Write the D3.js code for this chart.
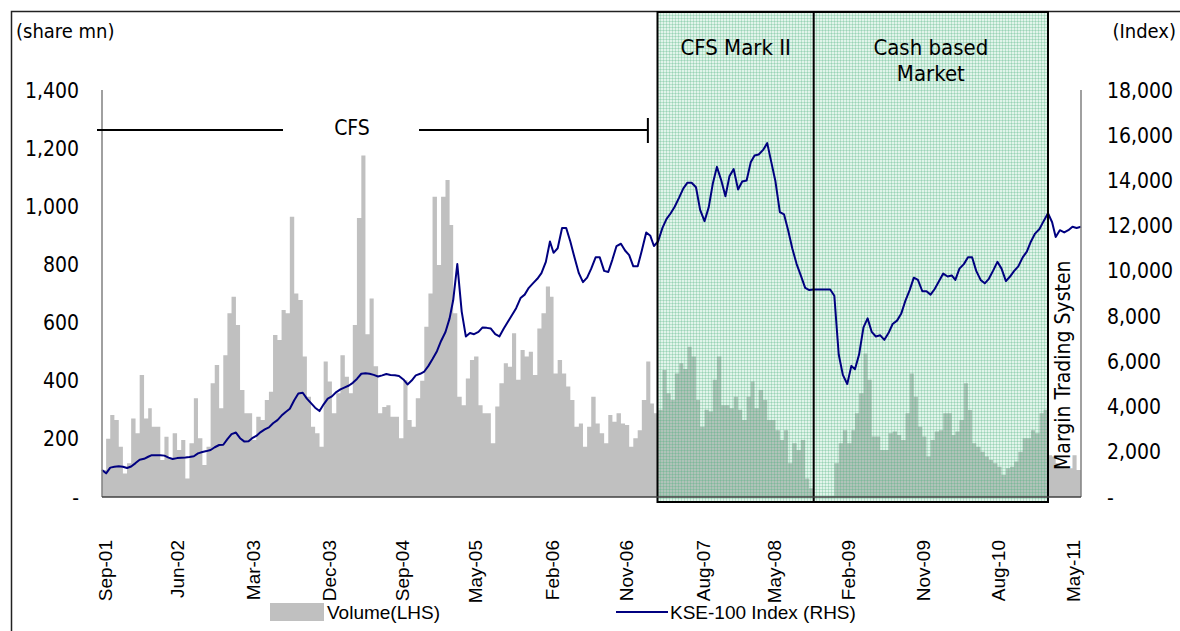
<!DOCTYPE html>
<html>
<head>
<meta charset="utf-8">
<script src="https://cdn.jsdelivr.net/npm/d3@7"></script>
<style>
  body { margin: 0; background: #fff; }
  svg text { font-family: "DejaVu Sans Condensed", "DejaVu Sans", sans-serif; fill: #000; }
</style>
</head>
<body>
<script>
// half-monthly periods starting 1 Sep 2001
var startDate = new Date(2001, 8, 1);
var endDate = new Date(2011, 5, 1);

// traded volume, share mn (LHS)
var volume = [
  93, 200, 282, 265, 173, 81, 116, 270, 219, 420, 270, 305, 242, 242, 127, 207, 133, 219, 162, 196,
  64, 185, 340, 202, 110, 173, 391, 454, 305, 488, 632, 689, 592, 368, 288, 288, 196, 276, 265, 334,
  362, 557, 540, 643, 632, 964, 700, 678, 483, 345, 242, 219, 173, 466, 397, 288, 357, 488, 414, 357,
  592, 960, 1175, 560, 683, 450, 288, 310, 316, 276, 276, 202, 402, 265, 242, 340, 400, 586, 700, 1033,
  798, 1033, 1090, 936, 632, 345, 316, 408, 471, 483, 316, 288, 288, 185, 311, 391, 460, 448, 563, 403,
  506, 483, 500, 420, 580, 632, 724, 689, 425, 471, 425, 380, 334, 242, 253, 173, 242, 345, 253, 219,
  185, 282, 259, 288, 253, 248, 173, 202, 230, 334, 466, 322, 288, 300, 437, 357, 334, 425, 460, 440,
  517, 483, 334, 242, 300, 294, 403, 483, 316, 316, 305, 345, 300, 265, 345, 397, 305, 368, 334, 265,
  265, 230, 196, 230, 116, 185, 162, 196, 64, 30, 1, 1, 1, 1, 3, 116, 185, 230, 185, 230,
  288, 357, 494, 403, 208, 208, 162, 162, 219, 225, 213, 196, 288, 425, 345, 242, 208, 139, 196, 225,
  230, 288, 288, 213, 225, 265, 391, 299, 185, 173, 156, 139, 127, 116, 104, 76, 99, 104, 122, 156,
  202, 202, 230, 219, 288, 300, 144, 139, 116, 104, 99, 99, 144, 93
];

// KSE-100 index level (RHS)
var kse100 = [
  1194, 1047, 1300, 1340, 1360, 1340, 1280, 1350, 1500, 1650, 1690, 1780, 1850, 1850, 1850, 1830, 1740, 1680, 1720, 1740,
  1750, 1770, 1800, 1930, 1990, 2030, 2080, 2200, 2300, 2310, 2560, 2780, 2850, 2600, 2450, 2470, 2600, 2700, 2870, 2990,
  3080, 3260, 3400, 3600, 3760, 3900, 4280, 4580, 4610, 4350, 4150, 3950, 3800, 4100, 4350, 4450, 4640, 4760, 4850, 4930,
  5050, 5220, 5450, 5470, 5450, 5400, 5330, 5380, 5440, 5400, 5380, 5350, 5200, 4980, 5150, 5380, 5450, 5550, 5800, 6100,
  6450, 6900, 7300, 7900, 8700, 10300, 8200, 7100, 7250, 7200, 7300, 7500, 7480, 7450, 7200, 7100, 7450, 7750, 8050, 8350,
  8800, 8950, 9250, 9450, 9650, 9900, 10400, 11300, 10800, 11000, 11900, 11900, 11300, 10600, 9900, 9500, 9700, 10100, 10600, 10600,
  10000, 9950, 10500, 11100, 11200, 10900, 10700, 10200, 10200, 10900, 11700, 11550, 11100, 11300, 11900, 12300, 12550, 12850, 13250, 13650,
  13900, 13900, 13700, 12700, 12200, 12800, 13850, 14600, 14000, 13300, 14200, 14500, 13600, 13950, 14000, 14800, 15100, 15150, 15350, 15650,
  14800, 13950, 12600, 12500, 11800, 11000, 10300, 9800, 9250, 9150, 9180, 9180, 9180, 9180, 9180, 8900, 6300, 5400, 5000, 5800,
  5650, 6300, 7500, 7900, 7300, 7100, 7150, 6950, 7250, 7650, 7800, 8100, 8700, 9150, 9700, 9600, 9100, 9100, 8950, 9200,
  9550, 9880, 9750, 9800, 9600, 10100, 10300, 10600, 10600, 10000, 9600, 9450, 9650, 10000, 10400, 10100, 9550, 9750, 10000, 10200,
  10600, 10850, 11300, 11650, 11850, 12200, 12550, 12150, 11500, 11800, 11700, 11800, 11950, 11900, 11950
];

var volTicks = [0, 200, 400, 600, 800, 1000, 1200, 1400];
var idxTicks = [0, 2000, 4000, 6000, 8000, 10000, 12000, 14000, 16000, 18000];
var dateTickLabels = ["Sep-01", "Jun-02", "Mar-03", "Dec-03", "Sep-04", "May-05", "Feb-06",
                      "Nov-06", "Aug-07", "May-08", "Feb-09", "Nov-09", "Aug-10", "May-11"];
var dateTickDates = ["2001-09-12", "2002-06-03", "2003-03-06", "2003-12-05", "2004-08-28", "2005-05-22", "2006-02-24",
                     "2006-11-19", "2007-08-29", "2008-05-13", "2009-02-05", "2009-11-04", "2010-08-06", "2011-05-05"];

// regime boundaries
var cfsEnd = "2007-02-07";
var mark2Start = "2007-03-14";
var cashStart = "2008-10-02";
var mtsStart = "2011-02-01";

var parseDay = d3.timeParse("%Y-%m-%d");
function periodDate(i) { return new Date(2001, 8 + Math.floor(i / 2), i % 2 ? 16 : 1); }

var svgWidth = 1180, svgHeight = 631;
var plot = { left: 102, right: 1081, top: 90, bottom: 497 };

var svg = d3.select("body").append("svg")
  .attr("width", svgWidth)
  .attr("height", svgHeight);

var x = d3.scaleTime().domain([startDate, endDate]).range([plot.left, plot.right]);
var yL = d3.scaleLinear().domain([0, 1400]).range([plot.bottom, plot.top]);
var yR = d3.scaleLinear().domain([0, 18000]).range([plot.bottom, plot.top]);

// green grid pattern for the shaded regimes
var defs = svg.append("defs");
var pat = defs.append("pattern")
  .attr("id", "gridfill")
  .attr("width", 3).attr("height", 3)
  .attr("patternUnits", "userSpaceOnUse");
pat.append("rect").attr("width", 3).attr("height", 3).attr("fill", "rgba(120,205,160,0.22)");
pat.append("rect").attr("width", 3).attr("height", 1).attr("fill", "rgba(70,175,120,0.26)");
pat.append("rect").attr("width", 1).attr("height", 3).attr("fill", "rgba(70,175,120,0.26)");

// outer frame
svg.append("path")
  .attr("d", "M11.5,631 V11.5 H1180")
  .attr("fill", "none")
  .attr("stroke", "#222")
  .attr("stroke-width", 1.5);

// volume (stepped area so the bars have no seams)
var volPts = volume.map(function(v, i) { return [periodDate(i), v]; });
volPts.push([periodDate(volume.length), volume[volume.length - 1]]);

var area = d3.area()
  .curve(d3.curveStepAfter)
  .x(function(d) { return x(d[0]); })
  .y0(yL(0))
  .y1(function(d) { return yL(d[1]); });

svg.append("path")
  .datum(volPts)
  .attr("fill", "#c0c0c0")
  .attr("d", area);

// shaded regime box
var boxTop = 12, boxBottom = 502;
svg.append("rect")
  .attr("x", x(parseDay(mark2Start)))
  .attr("y", boxTop)
  .attr("width", x(parseDay(mtsStart)) - x(parseDay(mark2Start)))
  .attr("height", boxBottom - boxTop)
  .attr("fill", "url(#gridfill)");

// KSE-100 line
var line = d3.line()
  .x(function(d, i) { return x(periodDate(i)); })
  .y(function(d) { return yR(d); });

svg.append("path")
  .datum(kse100)
  .attr("fill", "none")
  .attr("stroke", "#000080")
  .attr("stroke-width", 2)
  .attr("stroke-linejoin", "round")
  .attr("d", line);

// box border + divider
svg.append("rect")
  .attr("x", x(parseDay(mark2Start)))
  .attr("y", boxTop)
  .attr("width", x(parseDay(mtsStart)) - x(parseDay(mark2Start)))
  .attr("height", boxBottom - boxTop)
  .attr("fill", "none")
  .attr("stroke", "#000")
  .attr("stroke-width", 2);

svg.append("line")
  .attr("x1", x(parseDay(cashStart))).attr("x2", x(parseDay(cashStart)))
  .attr("y1", boxTop).attr("y2", boxBottom)
  .attr("stroke", "#000")
  .attr("stroke-width", 2);

// axes lines (no tick marks, like the original)
svg.append("line")
  .attr("x1", plot.left).attr("x2", plot.left)
  .attr("y1", plot.top).attr("y2", plot.bottom)
  .attr("stroke", "#808080").attr("stroke-width", 1.5);
svg.append("line")
  .attr("x1", plot.right).attr("x2", plot.right)
  .attr("y1", plot.top).attr("y2", plot.bottom)
  .attr("stroke", "#808080").attr("stroke-width", 1.5);
svg.append("line")
  .attr("x1", plot.left).attr("x2", plot.right)
  .attr("y1", plot.bottom).attr("y2", plot.bottom)
  .attr("stroke", "#404040").attr("stroke-width", 1.5);

var fmt = d3.format(",");
function tickText(v) { return v === 0 ? "-" : fmt(v); }

svg.selectAll(".ltick")
  .data(volTicks)
  .enter().append("text")
  .attr("class", "ltick")
  .attr("x", 79)
  .attr("y", function(d) { return yL(d); })
  .attr("dy", "0.36em")
  .attr("text-anchor", "end")
  .style("font-size", "21px")
  .text(tickText);

svg.selectAll(".rtick")
  .data(idxTicks)
  .enter().append("text")
  .attr("class", "rtick")
  .attr("x", 1107)
  .attr("y", function(d) { return yR(d); })
  .attr("dy", "0.36em")
  .attr("text-anchor", "start")
  .style("font-size", "21px")
  .text(tickText);

// date labels, rotated
svg.selectAll(".xtick")
  .data(dateTickLabels)
  .enter().append("text")
  .attr("class", "xtick")
  .attr("transform", function(d, i) {
    return "translate(" + x(parseDay(dateTickDates[i])) + ",540) rotate(-90)";
  })
  .attr("dy", "0.35em")
  .attr("text-anchor", "end")
  .style("font-family", "'Liberation Sans', Arial, sans-serif")
  .style("font-size", "19px")
  .text(function(d) { return d; });

// axis titles
svg.append("text").attr("x", 16).attr("y", 31).attr("dy", "0.36em")
  .style("font-size", "20px").text("(share mn)");
svg.append("text").attr("x", 1176).attr("y", 31).attr("dy", "0.36em")
  .attr("text-anchor", "end")
  .style("font-size", "20px").text("(Index)");

// CFS bracket
var bracketY = 130;
var cfsX = x(parseDay(cfsEnd));
svg.append("line").attr("x1", 97).attr("x2", 283).attr("y1", bracketY).attr("y2", bracketY)
  .attr("stroke", "#000").attr("stroke-width", 2);
svg.append("line").attr("x1", 419).attr("x2", cfsX).attr("y1", bracketY).attr("y2", bracketY)
  .attr("stroke", "#000").attr("stroke-width", 2);
svg.append("line").attr("x1", cfsX).attr("x2", cfsX).attr("y1", 118).attr("y2", 143)
  .attr("stroke", "#000").attr("stroke-width", 2);
svg.append("text").attr("x", 352).attr("y", 127).attr("dy", "0.36em")
  .attr("text-anchor", "middle").style("font-size", "21px").text("CFS");

// regime labels
var m2x = (x(parseDay(mark2Start)) + x(parseDay(cashStart))) / 2;
var cbx = (x(parseDay(cashStart)) + x(parseDay(mtsStart))) / 2;
svg.append("text").attr("x", m2x).attr("y", 47).attr("dy", "0.36em")
  .attr("text-anchor", "middle").style("font-size", "22px").text("CFS Mark II");
svg.append("text").attr("x", cbx).attr("y", 47).attr("dy", "0.36em")
  .attr("text-anchor", "middle").style("font-size", "22px").text("Cash based");
svg.append("text").attr("x", cbx).attr("y", 73).attr("dy", "0.36em")
  .attr("text-anchor", "middle").style("font-size", "22px").text("Market");
svg.append("text")
  .attr("transform", "translate(1062,470) rotate(-90)")
  .attr("dy", "0.36em")
  .style("font-size", "21px")
  .text("Margin Trading Systen");

// legend
var legY = 612;
svg.append("rect").attr("x", 270).attr("y", legY - 9).attr("width", 54).attr("height", 18)
  .attr("fill", "#c0c0c0");
svg.append("text").attr("x", 327).attr("y", legY).attr("dy", "0.36em")
  .style("font-family", "'Liberation Sans Narrow', 'Liberation Sans', sans-serif")
  .style("font-size", "19px").text("Volume(LHS)");
svg.append("line").attr("x1", 616).attr("x2", 668).attr("y1", legY).attr("y2", legY)
  .attr("stroke", "#000080").attr("stroke-width", 2);
svg.append("text").attr("x", 670).attr("y", legY).attr("dy", "0.36em")
  .style("font-family", "'Liberation Sans Narrow', 'Liberation Sans', sans-serif")
  .style("font-size", "19px").text("KSE-100 Index (RHS)");
</script>
</body>
</html>
